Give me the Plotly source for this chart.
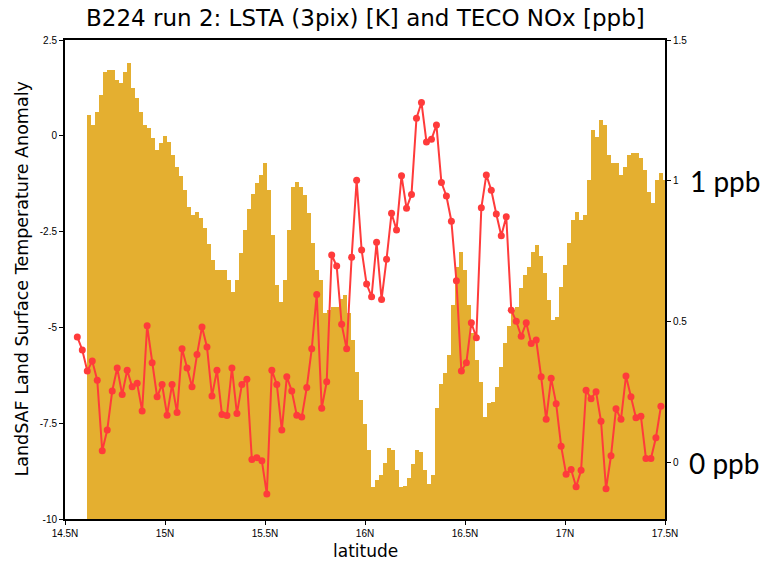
import plotly.graph_objects as go

# ---- data ----
# TECO NOx [ppb], regular latitude grid starting at 14.62N every 0.02 deg
nox_lat0 = 14.62
nox_dlat = 0.02
nox_ppb = [
    1.234, 1.199, 1.245, 1.305, 1.387, 1.394, 1.394, 1.358, 1.348, 1.387,
    1.418, 1.330, 1.294, 1.245, 1.199, 1.188, 1.152, 1.110, 1.135, 1.160,
    1.138, 1.092, 1.050, 1.018, 0.968, 0.908, 0.879, 0.890, 0.869, 0.833,
    0.777, 0.720, 0.684, 0.684, 0.684, 0.649, 0.606, 0.649, 0.745, 0.826,
    0.901, 0.954, 0.993, 1.021, 1.064, 0.968, 0.809, 0.631, 0.571, 0.649,
    0.826, 0.979, 0.996, 0.979, 0.950, 0.887, 0.780, 0.684, 0.649, 0.532,
    0.543, 0.553, 0.553, 0.582, 0.596, 0.532, 0.436, 0.323, 0.223, 0.138,
    0.046, -0.085, -0.060, -0.043, 0.000, 0.053, 0.046, -0.025, -0.085, -0.082,
    -0.053, -0.004, 0.046, 0.039, -0.025, -0.074, -0.043, 0.195, 0.280, 0.319,
    0.383, 0.560, 0.695, 0.748, 0.684, 0.560, 0.461, 0.365, 0.287, 0.163,
    0.213, 0.216, 0.270, 0.340, 0.426, 0.486, 0.543, 0.553, 0.621, 0.667,
    0.695, 0.748, 0.773, 0.734, 0.674, 0.578, 0.507, 0.518, 0.624, 0.702,
    0.780, 0.862, 0.890, 0.862, 0.879, 1.004, 1.181, 1.156, 1.216, 1.199,
    1.092, 1.064, 1.064, 1.021, 1.050, 1.092, 1.099, 1.099, 1.082, 1.039,
    0.961, 0.922, 1.004, 1.028, 1.004,
]

# LandSAF LSTA (3 pix) [K], regular latitude grid
lsta_lat0 = 14.5615
lsta_dlat = 0.02494
lsta_k = [
    -5.25, -5.59, -6.14, -5.88, -6.38, -8.22, -7.68, -6.66, -6.06, -6.75,
    -6.12, -6.55, -6.46, -7.18, -4.96, -5.92, -6.81, -6.49, -7.29, -6.49,
    -7.22, -5.56, -6.06, -6.55, -5.71, -4.99, -5.51, -6.79, -6.12, -7.27,
    -7.30, -6.06, -7.25, -6.49, -6.35, -8.45, -8.40, -8.48, -9.35, -6.12,
    -6.49, -7.68, -6.29, -6.66, -7.29, -7.34, -6.57, -5.56, -4.14, -7.11,
    -6.42, -3.11, -3.40, -4.92, -5.56, -3.17, -1.16, -2.98, -3.87, -4.20,
    -2.78, -4.27, -3.22, -2.02, -2.46, -1.04, -1.89, -1.53, 0.46, 0.87,
    -0.16, -0.09, 0.28, -1.22, -1.57, -2.23, -3.78, -6.14, -5.92, -4.88,
    -5.27, -1.88, -1.02, -1.42, -2.04, -2.61, -2.11, -4.55, -4.84, -5.23,
    -4.88, -5.42, -5.33, -6.29, -7.40, -6.33, -6.99, -8.10, -8.83, -8.71,
    -9.16, -8.73, -6.64, -6.86, -6.68, -7.45, -9.21, -8.35, -7.12, -7.40,
    -6.27, -6.81, -7.36, -7.32, -8.42, -8.42, -7.88, -7.06,
]

x_tickvals = [14.5, 15.0, 15.5, 16.0, 16.5, 17.0, 17.5]
x_ticktext = ["14.5N", "15N", "15.5N", "16N", "16.5N", "17N", "17.5N"]
left_tickvals = [2.5, 0, -2.5, -5, -7.5, -10]
left_ticktext = ["2.5", "0", "-2.5", "-5", "-7.5", "-10"]
right_tickvals = [0, 0.5, 1, 1.5]
right_ticktext = ["0", "0.5", "1", "1.5"]
nox_range = [-0.2, 1.5]
lsta_range = [-10, 2.5]

title_text = "B224 run 2: LSTA (3pix) [K] and TECO NOx [ppb]"
ytitle_text = "LandSAF Land Surface Temperature Anomaly"
xtitle_text = "latitude"

YELLOW = "#E4AF30"
RED = "#FF3B3B"

fig = go.Figure()
fig.add_trace(go.Bar(
    x0=nox_lat0, dx=nox_dlat, y=[v - nox_range[0] for v in nox_ppb],
    base=nox_range[0], width=nox_dlat,
    marker=dict(color=YELLOW, line=dict(width=0)),
    yaxis="y", showlegend=False, hoverinfo="skip",
))
fig.add_trace(go.Scatter(
    x0=lsta_lat0, dx=lsta_dlat, y=lsta_k, mode="lines+markers",
    line=dict(color=RED, width=2),
    marker=dict(color=RED, size=7),
    yaxis="y2", showlegend=False,
))

tickfont = dict(family="Liberation Sans", size=10, color="black")
fig.update_layout(
    width=765, height=561,
    margin=dict(l=65, r=100, t=40, b=42),
    paper_bgcolor="white", plot_bgcolor="white",
    bargap=0,
    xaxis=dict(range=[14.5, 17.5], tickvals=x_tickvals, ticktext=x_ticktext,
               ticks="outside", ticklen=4, tickcolor="black", tickfont=tickfont,
               showgrid=False, zeroline=False, showline=True, linecolor="black",
               linewidth=2, mirror=True),
    yaxis=dict(range=nox_range, side="right", tickvals=right_tickvals,
               ticktext=right_ticktext, ticks="outside", ticklen=4,
               tickcolor="black", tickfont=tickfont, showgrid=False,
               zeroline=False, showline=True, linecolor="black", linewidth=2),
    yaxis2=dict(range=lsta_range, side="left", overlaying="y",
                tickvals=left_tickvals, ticktext=left_ticktext, ticks="outside",
                ticklen=4, tickcolor="black", tickfont=tickfont, showgrid=False,
                zeroline=False, showline=True, linecolor="black", linewidth=2),
    annotations=[
        dict(text=title_text, xref="paper", yref="paper", x=0.5, y=1,
             yshift=22, xanchor="center", yanchor="middle", showarrow=False,
             font=dict(family="DejaVu Sans", size=23, color="black")),
        dict(text=ytitle_text, xref="paper", yref="paper", x=0, xshift=-44,
             y=0.5, textangle=-90, xanchor="center", yanchor="middle",
             showarrow=False,
             font=dict(family="DejaVu Sans", size=17.5, color="black")),
        dict(text=xtitle_text, xref="paper", yref="paper", x=0.5, y=0,
             yshift=-32, xanchor="center", yanchor="middle", showarrow=False,
             font=dict(family="DejaVu Sans", size=17, color="black")),
        dict(text="1 ppb", xref="paper", yref="y", x=1, xshift=60, y=1,
             xanchor="center", yanchor="middle", showarrow=False,
             font=dict(family="Lato", size=28, color="black")),
        dict(text="0 ppb", xref="paper", yref="y", x=1, xshift=59, y=0,
             xanchor="center", yanchor="middle", showarrow=False,
             font=dict(family="Lato", size=28, color="black")),
    ],
)

fig.write_html("out.html", config={"displayModeBar": False},
               post_script="document.body.style.margin='0px';")
